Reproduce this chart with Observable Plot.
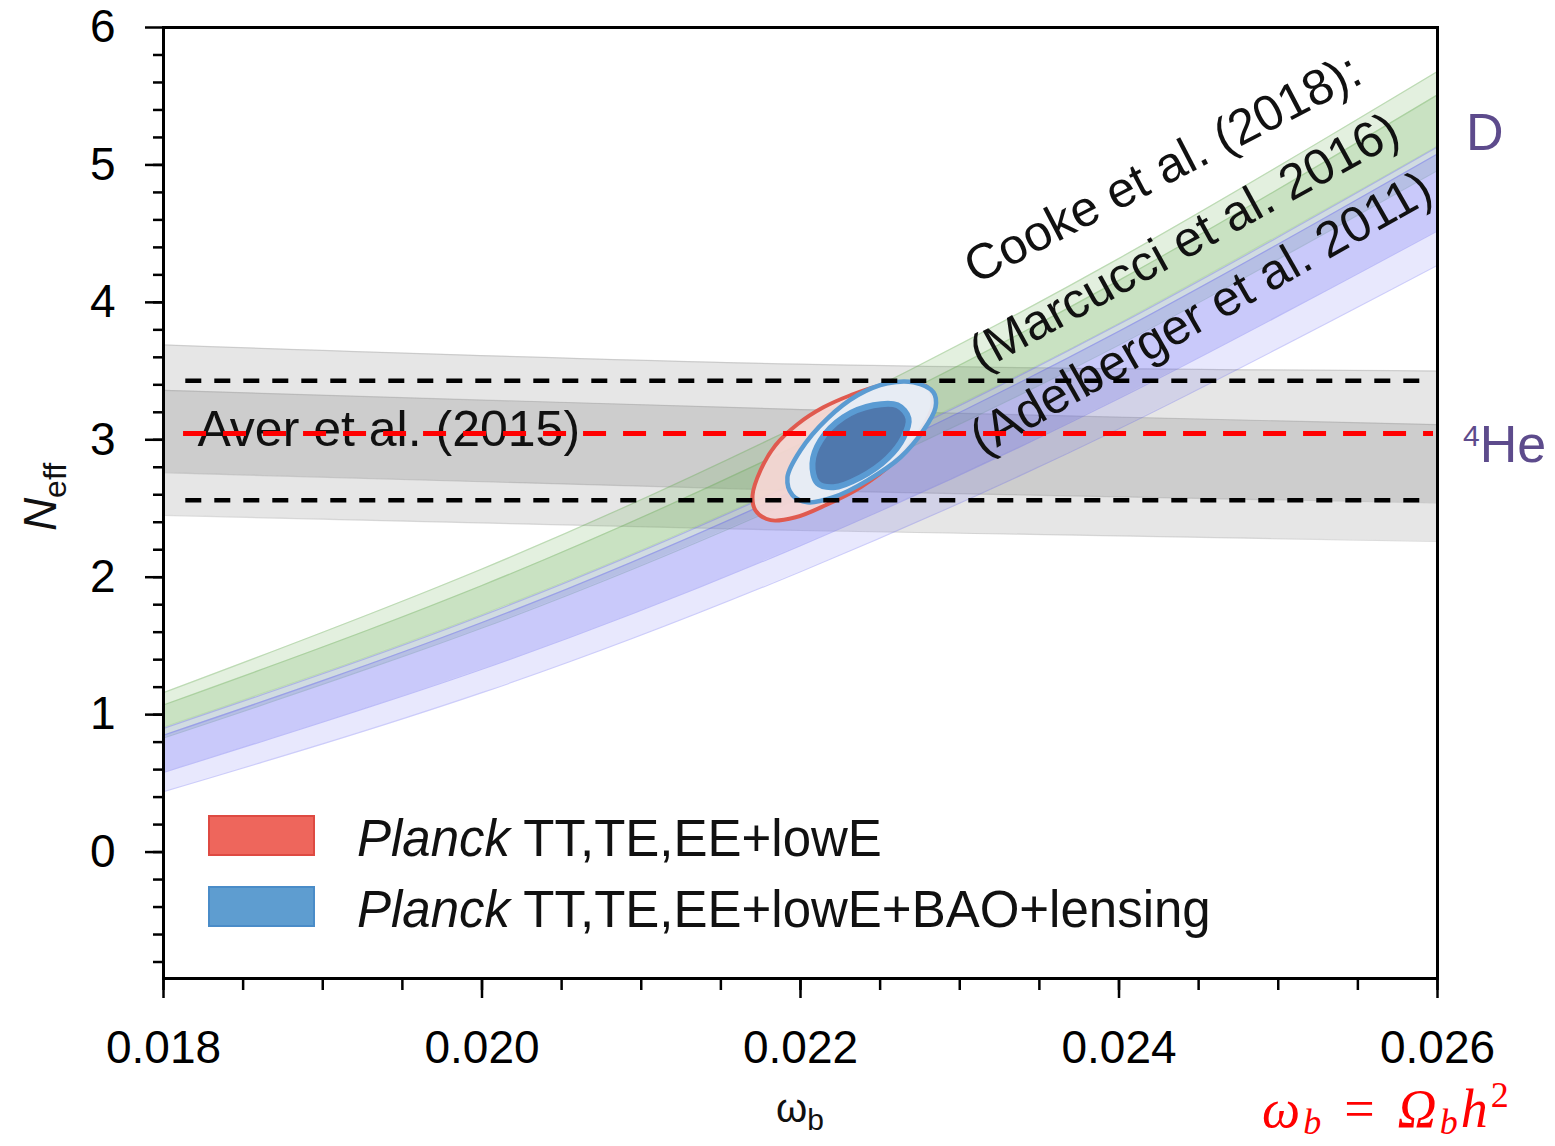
<!DOCTYPE html>
<html>
<head>
<meta charset="utf-8">
<script src="https://cdn.jsdelivr.net/npm/d3@7"></script>
<script src="https://cdn.jsdelivr.net/npm/@observablehq/plot@0.6"></script>
<style>
  html, body { margin: 0; padding: 0; background: #fff; }
  #wrap { position: relative; width: 1555px; height: 1146px; font-family: "Liberation Sans", Arial, sans-serif; }
  #wrap svg { position: absolute; left: 0; top: 0; }
  .abs { position: absolute; white-space: nowrap; line-height: 1; }
  .swatch { position: absolute; width: 103px; height: 37px; box-sizing: content-box; }
  .legtext { font-size: 51px; color: #111; }
  .nuc { color: #5d4b8c; font-size: 52px; }
  .math { font-family: "Liberation Serif", "DejaVu Serif", serif; font-style: italic; color: #ff0000; font-size: 54px; letter-spacing: 3px; }
  .sub { font-size: 36px; position: relative; top: 7px; }
</style>
</head>
<body>
<div id="wrap"></div>
<script>
// Baryon density grid (omega_b) on which the BBN bands are given
const omegaGrid = [0.018, 0.020, 0.022, 0.024, 0.026];

// Deuterium (Cooke et al. 2018) with Marcucci et al. (2016) rates: N_eff band edges
const marcucci95Hi = [1.16, 2.06, 3.11, 4.32, 5.68];
const marcucci68Hi = [1.07, 1.94, 2.97, 4.16, 5.51];
const marcucci68Lo = [0.91, 1.73, 2.71, 3.85, 5.14];
const marcucci95Lo = [0.83, 1.63, 2.58, 3.69, 4.96];

// Same deuterium measurement with Adelberger et al. (2011) rates
const adelberger95Hi = [0.90, 1.72, 2.70, 3.84, 5.13];
const adelberger68Hi = [0.85, 1.67, 2.65, 3.79, 5.08];
const adelberger68Lo = [0.58, 1.33, 2.23, 3.30, 4.52];
const adelberger95Lo = [0.44, 1.16, 2.04, 3.08, 4.27];

// Helium-4 (Aver et al. 2015) band
const averGrid = [0.018, 0.022, 0.026];
const aver95Hi = [3.69, 3.55, 3.50];
const aver68Hi = [3.36, 3.22, 3.11];
const aver68Lo = [2.76, 2.63, 2.54];
const aver95Lo = [2.45, 2.34, 2.26];

// Reference N_eff lines
const standardNeff = [3.046];
const neffBounds = [3.43, 2.56];

// Planck contours: [omega_b, N_eff] vertices
const planckTTTEEE95 = [
  [0.021717, 2.487], [0.021699, 2.596], [0.021749, 2.778], [0.021843, 2.960],
  [0.021981, 3.113], [0.022144, 3.236], [0.022314, 3.324], [0.022502, 3.396],
  [0.022691, 3.418], [0.022804, 3.375], [0.022829, 3.251], [0.022754, 3.069],
  [0.022597, 2.851], [0.022377, 2.655], [0.022157, 2.524], [0.021969, 2.436],
  [0.021812, 2.415]
];
const planckBAOLens95 = [
  [0.021918, 2.727], [0.022000, 2.924], [0.022170, 3.156], [0.022358, 3.324],
  [0.022546, 3.411], [0.022710, 3.418], [0.022835, 3.345], [0.022848, 3.236],
  [0.022772, 3.069], [0.022628, 2.873], [0.022421, 2.705], [0.022207, 2.582],
  [0.022044, 2.545], [0.021950, 2.596]
];
const planckBAOLens68 = [
  [0.022075, 2.829], [0.022126, 2.996], [0.022270, 3.164], [0.022458, 3.251],
  [0.022609, 3.251], [0.022678, 3.156], [0.022647, 3.018], [0.022546, 2.865],
  [0.022377, 2.727], [0.022207, 2.655], [0.022107, 2.684]
];

// Axis ticks
const xMajorTicks = [0.018, 0.020, 0.022, 0.024, 0.026];
const yMajorTicks = [0, 1, 2, 3, 4, 5, 6];
const xMinorTicks = d3.range(0, 17).map(i => 0.018 + i * 0.0005);
const yMinorTicks = d3.range(-4, 30).map(i => i * 0.2);

// Legend entries
const legendLabels = ["TT,TE,EE+lowE", "TT,TE,EE+lowE+BAO+lensing"];

const band = (lo, hi, grid) => grid.map((x, i) => ({x, lo: lo[i], hi: hi[i]}));
const edge = (vals, grid) => grid.map((x, i) => ({x, y: vals[i]}));

function bandMarks(lo, hi, grid, color, opacity, curve) {
  return [
    Plot.areaY(band(lo, hi, grid), {x: "x", y1: "lo", y2: "hi", fill: color, fillOpacity: opacity, curve}),
    Plot.line(edge(lo, grid), {x: "x", y: "y", stroke: color, strokeOpacity: 0.3, strokeWidth: 1.2, curve}),
    Plot.line(edge(hi, grid), {x: "x", y: "y", stroke: color, strokeOpacity: 0.3, strokeWidth: 1.2, curve})
  ];
}

const gray = "#8c8c8c";
const green = "#64aa50";
const violet = "#5a5af0";

const chart = Plot.plot({
  width: 1555,
  height: 1146,
  marginLeft: 163,
  marginRight: 118,
  marginTop: 27,
  marginBottom: 168,
  style: {fontFamily: "Liberation Sans, Arial, sans-serif", background: "transparent", color: "#000"},
  x: {domain: [0.018, 0.026], label: null},
  y: {domain: [-0.92, 6], label: null},
  marks: [
    // Helium-4 band
    ...bandMarks(aver95Lo, aver95Hi, averGrid, gray, 0.22, "natural"),
    ...bandMarks(aver68Lo, aver68Hi, averGrid, gray, 0.28, "natural"),
    // Deuterium bands
    ...bandMarks(marcucci95Lo, marcucci95Hi, omegaGrid, green, 0.18, "natural"),
    ...bandMarks(marcucci68Lo, marcucci68Hi, omegaGrid, green, 0.2, "natural"),
    ...bandMarks(adelberger95Lo, adelberger95Hi, omegaGrid, violet, 0.14, "natural"),
    ...bandMarks(adelberger68Lo, adelberger68Hi, omegaGrid, violet, 0.22, "natural"),
    // Planck contours
    Plot.line(planckTTTEEE95, {x: d => d[0], y: d => d[1], curve: "catmull-rom-closed",
      fill: "#f6d7d4", fillOpacity: 0.92, stroke: "#e05a4f", strokeWidth: 4}),
    Plot.line(planckBAOLens95, {x: d => d[0], y: d => d[1], curve: "catmull-rom-closed",
      fill: "#e6edf6", fillOpacity: 0.95, stroke: "#5b9bd2", strokeWidth: 4.5}),
    Plot.line(planckBAOLens68, {x: d => d[0], y: d => d[1], curve: "catmull-rom-closed",
      fill: "#4f78ad", stroke: "#5a9bd3", strokeWidth: 6}),
    // Band labels
    Plot.text(["Aver et al. (2015)"], {x: 0.018213, y: 3.07, text: d => d, textAnchor: "start", fontSize: 50, fill: "#111"}),
    Plot.text(["Cooke et al. (2018):"], {x: 0.024275, y: 4.97, text: d => d, rotate: -27.5, fontSize: 50, fill: "#111"}),
    Plot.text(["(Marcucci et al. 2016)"], {x: 0.02441, y: 4.44, text: d => d, rotate: -28.7, fontSize: 50, fill: "#111"}),
    Plot.text(["(Adelberger et al. 2011)"], {x: 0.024515, y: 3.92, text: d => d, rotate: -29.6, fontSize: 50, fill: "#111"}),
    // Reference lines
    Plot.ruleY(neffBounds, {x1: 0.01814, x2: 0.02597, stroke: "#000", strokeWidth: 4.5, strokeDasharray: "16,13"}),
    Plot.ruleY(standardNeff, {x1: 0.018126, x2: 0.025975, stroke: "#ff0000", strokeWidth: 5, strokeDasharray: "23,17"}),
    // Axes
    Plot.axisX(xMinorTicks, {tickSize: 12, tickFormat: () => "", strokeWidth: 2.5, label: null}),
    Plot.axisX(xMajorTicks, {tickSize: 20, tickPadding: 32, tickFormat: d3.format(".3f"), fontSize: 46, strokeWidth: 2.5, label: null}),
    Plot.axisY(yMinorTicks, {tickSize: 10, tickFormat: () => "", strokeWidth: 2.5, label: null}),
    Plot.axisY(yMajorTicks, {tickSize: 18, tickPadding: 30, tickFormat: d => String(d), fontSize: 46, strokeWidth: 2.5, label: null}),
    Plot.frame({stroke: "#000", strokeWidth: 3})
  ]
});

const wrap = document.getElementById("wrap");
wrap.appendChild(chart);

// Overlays: legend, axis titles and side annotations
const overlay = `
  <div class="swatch" style="left:208px;top:815px;background:#ee665c;border:2px solid #de4a42;"></div>
  <div class="swatch" style="left:208px;top:886px;background:#5e9dd0;border:2px solid #4a8cc8;"></div>
  <div class="abs legtext" style="left:357px;top:813px;"><i>Planck</i> ${legendLabels[0]}</div>
  <div class="abs legtext" style="left:357px;top:884px;"><i>Planck</i> ${legendLabels[1]}</div>
  <div class="abs" style="left:40px;top:497px;transform:translate(-50%,-50%) rotate(-90deg);font-size:46px;color:#111;">
    <i>N</i><span style="font-size:32px;position:relative;top:10px;">eff</span></div>
  <div class="abs" style="left:800px;top:1108px;transform:translate(-50%,-50%);font-size:40px;color:#111;">
    ω<span style="font-size:30px;position:relative;top:8px;">b</span></div>
  <div class="abs nuc" style="left:1466px;top:106px;">D</div>
  <div class="abs nuc" style="left:1463px;top:418px;"><span style="font-size:30px;position:relative;top:-16px;">4</span>He</div>
  <div class="abs math" style="left:1262px;top:1082px;">ω<span class="sub">b</span><span style="font-style:normal;margin:0 20px;">=</span>Ω<span class="sub">b</span>h<span style="font-size:36px;position:relative;top:-20px;font-style:normal;">2</span></div>
`;
wrap.insertAdjacentHTML("beforeend", overlay);
</script>
</body>
</html>
